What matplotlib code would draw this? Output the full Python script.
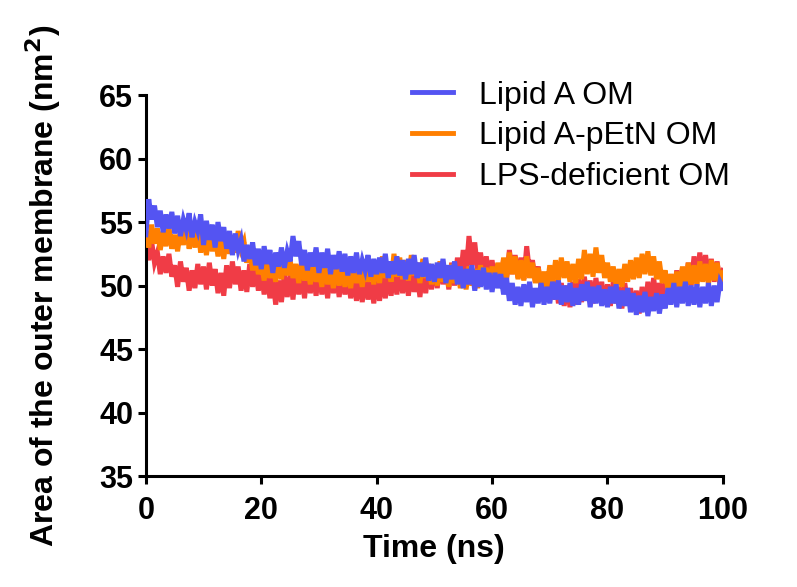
import numpy as np
import matplotlib
matplotlib.use("Agg")
import matplotlib.pyplot as plt
from matplotlib.lines import Line2D

plt.rcParams['font.family'] = ['Liberation Sans', 'DejaVu Sans']

time_ns = np.linspace(0, 100, 201)

lipid_a = [
    54.0, 56.8, 55.2, 56.3, 54.6, 55.9, 54.2, 55.6, 54.5, 55.8,
    54.1, 55.5, 53.9, 55.2, 54.4, 55.7, 53.8, 55.0, 54.3, 55.6,
    53.2, 55.1, 53.6, 54.8, 53.0, 55.0, 53.5, 54.6, 52.9, 54.3,
    52.4, 54.1, 52.8, 53.6, 51.9, 53.2, 52.1, 53.4, 51.6, 52.9,
    51.3, 53.1, 51.7, 52.8, 51.0, 52.6, 51.5, 53.0, 51.4, 52.7,
    51.9, 53.9, 52.3, 53.5, 51.6, 52.8, 51.2, 52.6, 51.5, 53.0,
    51.0, 52.6, 51.4, 52.9, 50.9, 52.4, 51.3, 52.7, 51.1, 52.5,
    50.8, 52.3, 51.0, 52.6, 50.9, 52.0, 51.2, 52.4, 50.7, 52.1,
    50.9, 52.2, 51.0, 52.5, 50.6, 51.9, 50.9, 52.3, 50.8, 52.0,
    50.5, 52.1, 50.9, 52.4, 50.6, 51.8, 50.7, 52.2, 50.4, 51.7,
    50.3, 51.8, 50.6, 52.1, 50.2, 51.6, 50.5, 51.9, 50.1, 51.5,
    49.8, 51.3, 50.1, 51.6, 49.6, 51.2, 49.9, 51.4, 49.7, 51.0,
    49.5, 51.0, 49.8, 50.9, 49.3, 50.6, 48.8, 50.2, 48.5, 49.9,
    48.4, 50.1, 48.7, 50.3, 48.3, 49.8, 48.6, 50.2, 48.5, 49.9,
    48.6, 50.3, 48.9, 50.4, 48.5, 50.0, 48.7, 50.2, 48.4, 49.8,
    48.5, 50.1, 48.8, 50.3, 48.3, 49.9, 48.6, 50.0, 48.4, 49.7,
    48.3, 49.9, 48.6, 50.1, 48.2, 49.6, 48.4, 49.8, 47.9, 49.4,
    47.7, 49.2, 47.9, 49.5, 47.6, 49.1, 48.0, 49.4, 47.8, 49.3,
    48.2, 49.8, 48.5, 50.2, 48.3, 49.9, 48.6, 50.3, 48.4, 50.0,
    48.5, 50.1, 48.3, 49.9, 48.6, 50.2, 48.4, 50.0, 48.7, 50.3,
    49.8,
]

lipid_a_petn = [
    54.2, 53.0, 54.8, 53.3, 54.5, 52.8, 54.3, 53.1, 54.6, 52.9,
    54.0, 52.7, 54.4, 53.2, 54.7, 52.9, 54.1, 53.0, 54.5, 52.6,
    53.8, 52.4, 54.2, 52.7, 53.9, 52.3, 53.6, 52.1, 54.0, 52.5,
    53.7, 52.6, 54.3, 52.9, 53.5, 51.8, 52.9, 51.2, 52.4, 50.9,
    51.8, 50.4, 52.1, 50.6, 51.6, 50.3, 51.9, 50.5, 52.3, 50.8,
    52.0, 50.6, 51.7, 50.2, 51.9, 50.4, 51.5, 50.1, 51.8, 50.3,
    51.3, 49.9, 51.6, 50.1, 51.2, 49.8, 51.5, 50.0, 51.4, 49.9,
    51.2, 49.8, 51.6, 50.2, 51.3, 49.9, 51.7, 50.3, 51.5, 50.1,
    51.8, 50.2, 52.3, 50.6, 51.9, 50.3, 52.5, 50.7, 52.2, 50.5,
    52.0, 50.4, 52.4, 50.8, 51.8, 50.2, 52.1, 50.6, 51.7, 50.1,
    51.6, 50.0, 51.9, 50.3, 51.4, 49.9, 51.7, 50.2, 51.3, 49.8,
    51.2, 49.7, 51.5, 50.0, 51.3, 49.8, 51.6, 50.1, 51.4, 49.9,
    51.5, 50.1, 51.8, 50.4, 52.2, 50.6, 52.6, 50.9, 52.3, 50.5,
    52.0, 50.4, 52.3, 50.6, 51.8, 50.2, 51.4, 49.9, 51.1, 49.8,
    51.6, 50.1, 52.0, 50.4, 52.2, 50.6, 51.9, 50.3, 51.7, 50.2,
    52.1, 50.5, 52.8, 50.9, 52.5, 50.7, 53.0, 51.0, 52.4, 50.6,
    51.8, 50.3, 51.5, 50.0, 51.3, 49.9, 51.7, 50.3, 52.0, 50.5,
    52.2, 50.6, 52.5, 50.9, 52.7, 50.8, 52.3, 50.5, 51.9, 50.2,
    51.2, 49.6, 50.9, 49.4, 51.1, 49.7, 51.5, 49.9, 51.8, 50.1,
    51.6, 50.0, 51.9, 50.3, 51.7, 50.1, 52.0, 50.4, 51.8, 50.2,
    51.0,
]

lps_deficient = [
    53.2, 52.0, 53.5, 51.8, 52.6, 50.9, 52.3, 51.0, 52.5, 50.7,
    51.6, 49.9, 51.9, 50.3, 51.4, 49.6, 51.2, 49.8, 51.7, 50.1,
    51.5, 49.7, 51.8, 50.0, 51.3, 49.4, 51.0, 49.2, 51.6, 49.8,
    51.9, 50.1, 51.5, 49.6, 51.2, 49.5, 51.7, 49.9, 51.4, 49.6,
    51.1, 49.3, 51.0, 49.0, 50.6, 48.5, 50.4, 48.7, 50.9, 49.1,
    50.8, 48.9, 51.2, 49.3, 51.0, 49.0, 51.3, 49.4, 50.9, 49.2,
    51.1, 49.3, 50.9, 49.0, 51.2, 49.4, 50.8, 49.1, 51.0, 49.3,
    50.8, 49.0, 50.6, 48.8, 50.4, 48.7, 50.7, 48.9, 50.3, 48.6,
    50.5, 48.8, 50.7, 49.0, 50.9, 49.2, 51.0, 49.3, 51.2, 49.4,
    51.0, 49.2, 51.3, 49.5, 50.8, 49.1, 51.1, 49.4, 51.4, 49.7,
    51.6, 49.8, 51.9, 50.1, 51.5, 49.7, 51.8, 50.0, 52.2, 50.4,
    52.8, 50.9, 53.9, 51.6, 53.4, 51.2, 52.6, 50.8, 52.3, 50.5,
    52.0, 50.3, 51.7, 50.0, 52.1, 50.4, 52.8, 50.9, 52.4, 50.6,
    52.2, 50.5, 53.1, 51.0, 52.0, 50.3, 51.5, 49.8, 51.0, 49.4,
    50.6, 48.9, 50.4, 48.6, 50.2, 48.4, 50.0, 48.3, 50.3, 48.5,
    50.5, 48.7, 50.7, 48.9, 50.4, 48.6, 50.6, 48.8, 50.3, 48.5,
    50.1, 48.4, 50.3, 48.6, 49.9, 48.2, 50.2, 48.5, 49.8, 48.0,
    49.6, 47.8, 49.9, 48.1, 50.3, 48.5, 50.6, 48.8, 50.2, 48.6,
    50.5, 48.9, 50.9, 49.2, 51.2, 49.5, 51.4, 49.7, 51.8, 50.0,
    52.3, 50.5, 52.6, 50.8, 52.4, 50.6, 52.1, 50.3, 51.9, 50.2,
    51.2,
]

labels = ["Lipid A OM", "Lipid A-pEtN OM", "LPS-deficient OM"]
colors = ["#5454F2", "#FF7F00", "#F03C46"]
x_ticks = [0, 20, 40, 60, 80, 100]
y_ticks = [35, 40, 45, 50, 55, 60, 65]

fig = plt.figure(figsize=(7.97, 5.87), dpi=100)
ax = fig.add_axes([0.183, 0.189, 0.724, 0.649])

ax.plot(time_ns, lps_deficient, color=colors[2], lw=3.6, zorder=2,
        solid_joinstyle="miter")
ax.plot(time_ns, lipid_a_petn, color=colors[1], lw=3.6, zorder=3,
        solid_joinstyle="miter")
ax.plot(time_ns, lipid_a, color=colors[0], lw=3.6, zorder=4,
        solid_joinstyle="miter")

ax.set_xlim(0, 100)
ax.set_ylim(35, 65)
ax.set_xticks(x_ticks)
ax.set_yticks(y_ticks)
for s in ["top", "right"]:
    ax.spines[s].set_visible(False)
for s in ["left", "bottom"]:
    ax.spines[s].set_linewidth(2.2)
ax.tick_params(direction="out", length=6, width=2.2, labelsize=22)
ax.tick_params(axis="y", pad=3)
ax.tick_params(axis="x", pad=8)
for lab in ax.get_xticklabels() + ax.get_yticklabels():
    lab.set_fontweight("bold")
ax.set_xlabel("Time (ns)", fontsize=23, fontweight="bold", labelpad=6)
ax.set_ylabel("Area of the outer membrane (nm$^\\mathbf{2}$)", fontsize=23,
              fontweight="bold", labelpad=26)

handles = [Line2D([], [], color=c, lw=3.5) for c in colors]
ax.legend(handles, labels, loc="upper left", bbox_to_anchor=(0.433, 1.08),
          frameon=False, fontsize=23, handlelength=1.3, handletextpad=0.8,
          labelspacing=0.34, borderpad=0.0)

fig.savefig("out.png", dpi=100)
